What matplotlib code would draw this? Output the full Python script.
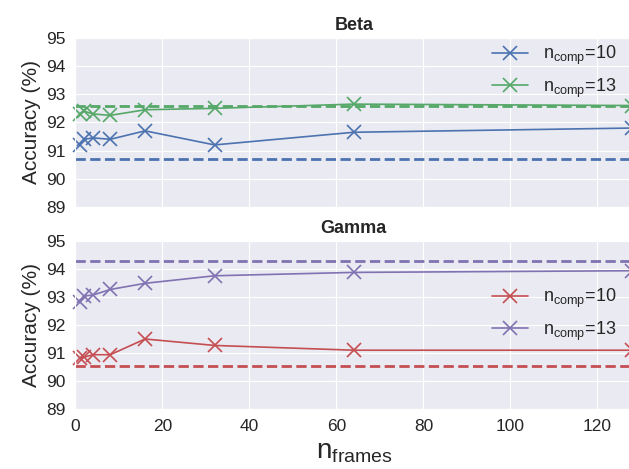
import numpy as np
import matplotlib
matplotlib.use("Agg")
import matplotlib.pyplot as plt
import seaborn as sns

sns.set_style("darkgrid")
plt.rcParams['font.family'] = ['Liberation Sans', 'DejaVu Sans']
plt.rcParams['mathtext.fontset'] = 'custom'
plt.rcParams['mathtext.rm'] = 'Liberation Sans'
plt.rcParams['mathtext.it'] = 'Liberation Sans'

# data
n_frames = [1, 2, 4, 8, 16, 32, 64, 128]
beta_10 = [91.2, 91.4, 91.45, 91.4, 91.7, 91.2, 91.65, 91.8]
beta_13 = [92.3, 92.4, 92.3, 92.25, 92.45, 92.5, 92.65, 92.6]
beta_10_ref = 90.7
beta_13_ref = 92.6
gamma_10 = [90.82, 90.85, 90.94, 90.94, 91.5, 91.27, 91.1, 91.1]
gamma_13 = [92.83, 93.04, 93.07, 93.27, 93.49, 93.76, 93.88, 93.94]
gamma_10_ref = 90.53
gamma_13_ref = 94.3

blue, green, red, purple = "#4C72B0", "#55A868", "#C44E52", "#8172B2"

fig = plt.figure(figsize=(6.29, 4.69), dpi=100)
ax1 = fig.add_axes([0.12, 0.559, 0.885, 0.36])
ax2 = fig.add_axes([0.12, 0.128, 0.885, 0.358])

def panel(ax, title, s10, s13, r10, r13, c10, c13, legloc, anchor):
    ax.plot(n_frames, s10, '-x', color=c10, lw=1.2, ms=10, mew=1.2,
            label=r'$\mathregular{n_{comp}}$=10', clip_on=False)
    ax.plot(n_frames, s13, '-x', color=c13, lw=1.2, ms=10, mew=1.2,
            label=r'$\mathregular{n_{comp}}$=13', clip_on=False)
    ax.axhline(r10, color=c10, ls='--', lw=2)
    ax.axhline(r13, color=c13, ls='--', lw=2)
    ax.set_xlim(0, 128)
    ax.set_ylim(89, 95)
    ax.set_yticks(range(89, 96))
    ax.set_xticks(range(0, 121, 20))
    ax.tick_params(labelsize=12.5)
    ax.set_title(title, fontsize=13, fontweight='bold')
    ax.set_ylabel("Accuracy (%)", fontsize=15)
    ax.legend(loc=legloc, bbox_to_anchor=anchor, fontsize=13, frameon=False,
              handlelength=2)

panel(ax1, "Beta", beta_10, beta_13, beta_10_ref, beta_13_ref, blue, green,
      "upper right", (1.0, 1.06))
panel(ax2, "Gamma", gamma_10, gamma_13, gamma_10_ref, gamma_13_ref, red, purple,
      "center right", (1.0, 0.56))
ax1.set_xticklabels([])
ax2.set_xlabel(r'$\mathregular{n_{frames}}$', fontsize=20)

fig.savefig("out.png", dpi=100)
